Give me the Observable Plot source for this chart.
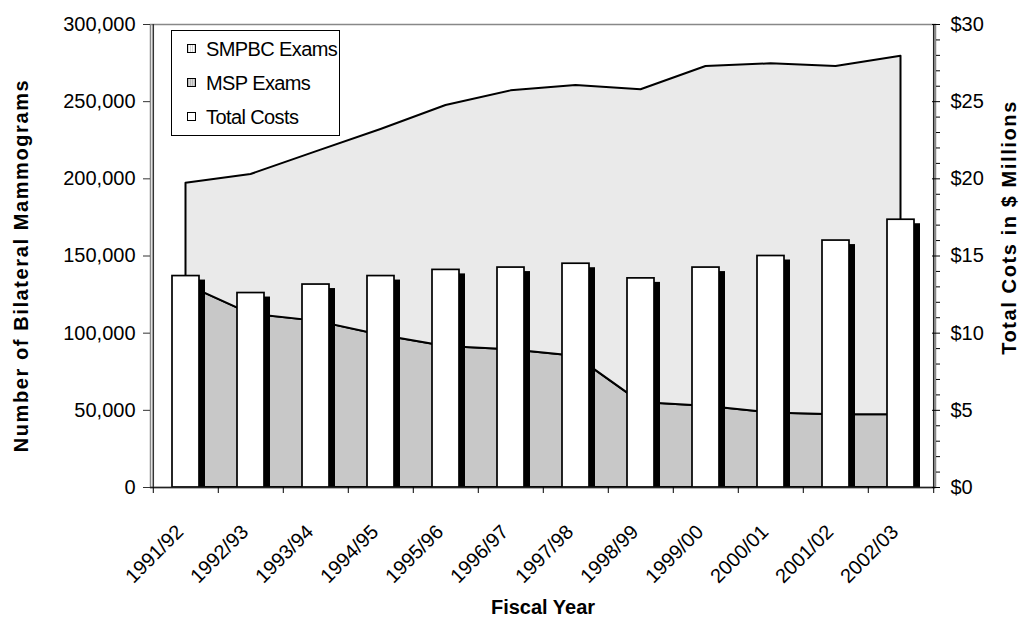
<!DOCTYPE html>
<html>
<head>
<meta charset="utf-8">
<script src="https://cdn.jsdelivr.net/npm/d3@7"></script>
<script src="https://cdn.jsdelivr.net/npm/@observablehq/plot@0.6"></script>
<style>
  body { margin: 0; background: #fff; font-family: Arial, "Liberation Sans", sans-serif; }
  #chart { position: relative; width: 1024px; height: 622px; }
  .legend {
    position: absolute; left: 171px; top: 30px; width: 169px; height: 106px;
    box-sizing: border-box; border: 1px solid #000; background: #fff;
    font-size: 20px; letter-spacing: -0.6px; color: #000;
  }
  .legend .row { position: absolute; left: 15px; height: 24px; line-height: 24px; white-space: nowrap; }
  .legend .sw {
    position: absolute; left: 0; top: 7px; width: 9px; height: 9px;
    box-sizing: border-box; border: 1.5px solid #000;
  }
  .legend .lbl { position: absolute; left: 19px; top: 0; }
</style>
</head>
<body>
<div id="chart"></div>
<script>
// Fiscal years on the category axis
const years = ["1991/92", "1992/93", "1993/94", "1994/95", "1995/96", "1996/97",
               "1997/98", "1998/99", "1999/00", "2000/01", "2001/02", "2002/03"];

// Bilateral mammograms per year (stacked areas)
const mspExams   = [131500, 112300, 107800, 98600, 91400, 89200, 85000, 55000, 52700, 48300, 47200, 47200];
const smpbcExams = [65700, 90500, 109700, 133400, 156100, 167800, 175500, 202700, 220100, 226200, 225600, 232300];

// Total program costs, $ millions (columns, right axis)
const totalCosts = [13.7, 12.6, 13.15, 13.7, 14.1, 14.25, 14.5, 13.55, 14.25, 15.0, 16.0, 17.35];

// Axis ticks
const examTicks = [0, 50000, 100000, 150000, 200000, 250000, 300000];
const costTicks = [0, 5, 10, 15, 20, 25, 30];
const costMinorTicks = d3.range(0, 31).filter(v => v % 5 !== 0);

const examMax = 300000, costMax = 30;
const k = examMax / costMax; // right axis ($M) expressed on the left-axis scale

const W = 1024, H = 622, mL = 150, mR = 89, mT = 24, mB = 135;
const step = (W - mL - mR) / years.length;

const costs = years.map((year, i) => ({year, cost: totalCosts[i]}));
const exams = years.map((year, i) => ({year, msp: mspExams[i], smpbc: smpbcExams[i]}));

const chart = Plot.plot({
  width: W, height: H,
  marginLeft: mL, marginRight: mR, marginTop: mT, marginBottom: mB,
  style: {fontFamily: "Arial, 'Liberation Sans', sans-serif", fontSize: "20px", color: "#000", background: "#fff"},
  x: {type: "band", domain: years, paddingInner: 0.59, paddingOuter: 0.295, axis: null},
  y: {domain: [0, examMax], axis: null},
  marks: [
    Plot.frame({stroke: "#888", strokeWidth: 1.5}),
    // MSP exams: bottom layer
    Plot.areaY(exams, {x: "year", y1: 0, y2: "msp", fill: "url(#mspFill)", stroke: "#000", strokeWidth: 2}),
    // SMPBC exams stacked on top of MSP
    Plot.areaY(exams, {x: "year", y1: "msp", y2: d => d.msp + d.smpbc, fill: "url(#smpbcFill)", stroke: "#000", strokeWidth: 2}),
    // Column shadows, then the columns
    Plot.barY(costs, {x: "year", y: d => d.cost * k, fill: "#000", dx: 6, dy: 4, clip: true}),
    Plot.barY(costs, {x: "year", y: d => d.cost * k, fill: "#fff", stroke: "#000", strokeWidth: 1.7}),
    // Axis lines
    Plot.ruleY([0], {stroke: "#222", strokeWidth: 1.5}),
    Plot.ruleX([years[0]], {dx: -step / 2, y1: 0, y2: examMax, stroke: "#333", strokeWidth: 1.5}),
    Plot.ruleX([years[years.length - 1]], {dx: step / 2, y1: 0, y2: examMax, stroke: "#222", strokeWidth: 1.5}),
    // Left axis
    Plot.axisY({anchor: "left", ticks: examTicks, tickSize: 7, tickPadding: 8, tickFormat: d3.format(","), label: null, stroke: "#333"}),
    // Right axis: majors crossing the line, minors outside, labels
    Plot.axisY({anchor: "right", ticks: costTicks.map(v => v * k), tickSize: 8, dx: -4, tickFormat: () => "", label: null}),
    Plot.axisY({anchor: "right", ticks: costMinorTicks.map(v => v * k), tickSize: 4, tickFormat: () => "", label: null}),
    Plot.axisY({anchor: "right", ticks: costTicks.map(v => v * k), tickSize: 0, tickPadding: 15, tickFormat: v => "$" + Math.round(v / k), label: null}),
    // Category axis: ticks on band boundaries, labels at band centres
    Plot.axisX({ticks: years, tickSize: 6, dx: -step / 2, tickFormat: () => "", label: null}),
    Plot.axisX({ticks: [years[years.length - 1]], tickSize: 6, dx: step / 2, tickFormat: () => "", label: null}),
    Plot.axisX({ticks: years, tickSize: 0, tickPadding: 41, tickRotate: -45, dx: -6, label: null}),
    // Axis titles
    Plot.text(["Number of Bilateral Mammograms"], {text: d => d, frameAnchor: "left", textAnchor: "middle", dx: -129, dy: 9.5, rotate: -90, fontSize: 20, fontWeight: "bold"}),
    Plot.text(["Total Cots in $ Millions"], {text: d => d, frameAnchor: "right", textAnchor: "middle", dx: 74.5, dy: -28.5, rotate: -90, fontSize: 20, fontWeight: "bold"}),
    Plot.text(["Fiscal Year"], {text: d => d, frameAnchor: "bottom", dy: 126, fontSize: 20, fontWeight: "bold"})
  ]
});

// Stippled fills for the two exam areas
const defs = document.createElementNS("http://www.w3.org/2000/svg", "defs");
defs.innerHTML = `
  <pattern id="smpbcFill" width="2" height="2" patternUnits="userSpaceOnUse">
    <rect width="2" height="2" fill="#fdfdfd"/><rect width="1" height="2" fill="#d6d6d6"/>
  </pattern>
  <pattern id="mspFill" width="2" height="2" patternUnits="userSpaceOnUse">
    <rect width="2" height="2" fill="#d8d8d8"/><rect width="1" height="2" fill="#b8b8b8"/>
  </pattern>`;
chart.insertBefore(defs, chart.firstChild);

// Letter spacing on the vertical axis titles
chart.querySelectorAll("text").forEach(t => {
  const s = t.textContent;
  if (s === "Number of Bilateral Mammograms" || s === "Total Cots in $ Millions") t.setAttribute("letter-spacing", "1.6");
});

const root = document.getElementById("chart");
root.appendChild(chart);

// Legend box inside the plot area
const legendItems = [
  {label: "SMPBC Exams", bg: "repeating-linear-gradient(90deg, #d6d6d6 0 1px, #fdfdfd 1px 2px)"},
  {label: "MSP Exams", bg: "repeating-linear-gradient(90deg, #b8b8b8 0 1px, #d8d8d8 1px 2px)"},
  {label: "Total Costs", bg: "#fff"}
];
const legend = document.createElement("div");
legend.className = "legend";
legendItems.forEach((item, i) => {
  const row = document.createElement("div");
  row.className = "row";
  row.style.top = (6 + i * 34) + "px";
  const sw = document.createElement("span");
  sw.className = "sw";
  sw.style.background = item.bg;
  const lbl = document.createElement("span");
  lbl.className = "lbl";
  lbl.textContent = item.label;
  row.appendChild(sw);
  row.appendChild(lbl);
  legend.appendChild(row);
});
root.appendChild(legend);
</script>
</body>
</html>
